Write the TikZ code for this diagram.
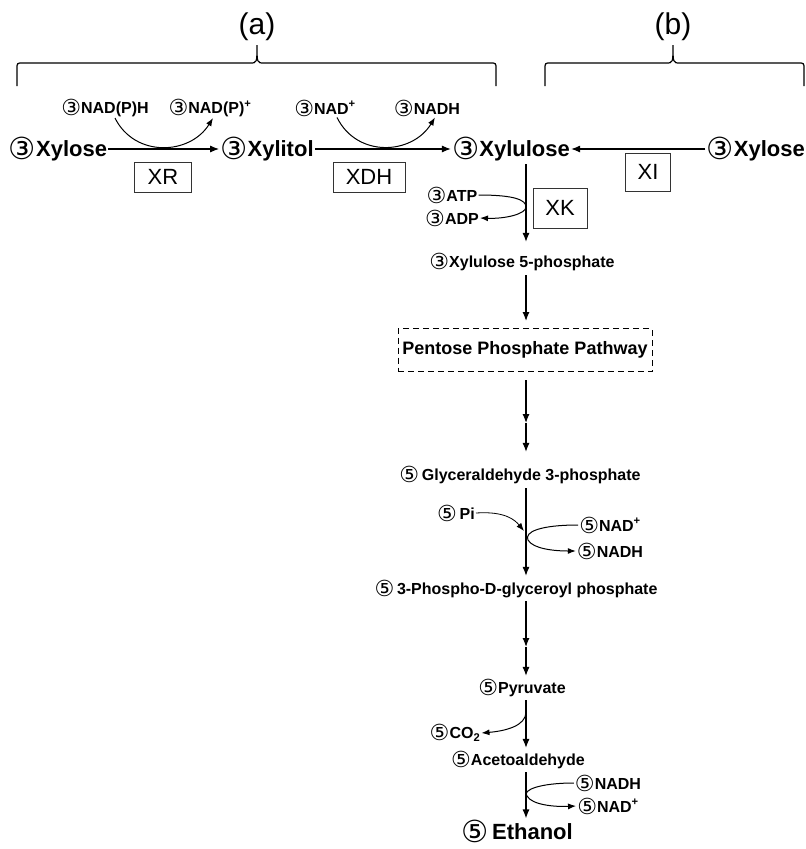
\documentclass[tikz,border=0pt]{standalone}
\usepackage{fontspec}
\setmainfont{Liberation Sans}
\newfontfamily\djv{DejaVu Sans}
\usetikzlibrary{arrows.meta}

\newcommand{\cthree}{\raisebox{-0.12em}{\scalebox{1.38}{\djv\mdseries ③}}}
\newcommand{\cfive}{\raisebox{-0.12em}{\scalebox{1.38}{\djv\mdseries ⑤}}}

\tikzstyle{tag} = [font=\fontsize{30}{34}\selectfont, inner sep=1pt]
\tikzstyle{sugar} = [font=\fontsize{22}{26}\selectfont\bfseries, inner sep=1pt]
\tikzstyle{metab} = [font=\fontsize{16}{19}\selectfont\bfseries, inner sep=1pt]
\tikzstyle{enzyme} = [
    rectangle,
    draw=black!80,
    line width=0.8pt,
    font=\fontsize{22}{26}\selectfont
]
\tikzstyle{pathway} = [
    rectangle,
    draw=black,
    line width=1pt,
    dash pattern=on 6pt off 4pt,
    minimum width=254pt,
    minimum height=43pt,
    font=\fontsize{18}{21}\selectfont\bfseries
]
\tikzstyle{brace} = [line width=1.2pt]
\tikzstyle{arrow} = [line width=1.2pt, -{Latex[length=9pt,width=7pt]}]
\tikzstyle{side} = [line width=1pt, -{Latex[length=8pt,width=6pt]}]

\begin{document}
\begin{tikzpicture}[x=1pt,y=-1pt]
\useasboundingbox (0,0) rectangle (806,849);

% (a) and (b)
\node (labA) [tag] at (257,27) {(a)};
\node (labB) [tag] at (673,27) {(b)};
\draw [brace] (17,86) -- (17,69) .. controls (17,63) .. (23,63) -- (250,63)
    .. controls (257,63) .. (257,45) .. controls (257,63) .. (264,63) -- (490,63)
    .. controls (496,63) .. (496,69) -- (496,86);
\draw [brace] (545,86) -- (545,69) .. controls (545,63) .. (551,63) -- (666,63)
    .. controls (673,63) .. (673,45) .. controls (673,63) .. (680,63) -- (798,63)
    .. controls (804,63) .. (804,69) -- (804,86);

% top row
\node (xylA) [sugar] at (58,149) {\cthree Xylose};
\node (xylitol) [sugar] at (267,149) {\cthree Xylitol};
\node (xylulose) [sugar] at (511,149) {\cthree Xylulose};
\node (xylB) [sugar, anchor=east] at (806,149) {\cthree Xylose};

\node (xr) [enzyme, minimum width=57pt, minimum height=30pt] at (163,177) {XR};
\node (xdh) [enzyme, minimum width=72pt, minimum height=30pt] at (369,177) {XDH};
\node (xi) [enzyme, minimum width=45pt, minimum height=38pt] at (648,172) {XI};
\node (xk) [enzyme, minimum width=54pt, minimum height=40pt] at (560,208) {XK};

\node (nadph) [metab] at (105,108) {\cthree NAD(P)H};
\node (nadpp) [metab] at (210,108) {\cthree NAD(P)\textsuperscript{+}};
\node (nadA) [metab] at (325,108) {\cthree NAD\textsuperscript{+}};
\node (nadhA) [metab] at (427,108) {\cthree NADH};

\draw [arrow] (xylA) -- (xylitol);
\draw [arrow] (xylitol) -- (xylulose);
\draw [arrow] (xylB) -- (xylulose);
\draw [side] ([xshift=10pt]nadph.south) .. controls (135,158) and (190,155) .. ([xshift=3pt]nadpp.south);
\draw [side] ([xshift=12pt]nadA.south) .. controls (357,158) and (412,155) .. ([xshift=8pt]nadhA.south);

% spine
\coordinate (spine) at (526,0);
\node (atp) [metab] at (452,195) {\cthree ATP};
\node (adp) [metab] at (452,218) {\cthree ADP};
\node (x5p) [metab] at (522,262) {\cthree Xylulose 5-phosphate};
\node (ppp) [pathway] at (525,350) {Pentose Phosphate Pathway};
\node (gap) [metab] at (520,475) {\cfive\,Glyceraldehyde 3-phosphate};
\node (pi) [metab] at (456,513) {\cfive\,Pi};
\node (nadB) [metab] at (610,525) {\cfive NAD\textsuperscript{+}};
\node (nadhB) [metab] at (610,551) {\cfive NADH};
\node (bpg) [metab] at (516,589) {\cfive\,3-Phospho-D-glyceroyl phosphate};
\node (pyr) [metab] at (522,688) {\cfive Pyruvate};
\node (co2) [metab] at (455,733) {\cfive CO\textsubscript{2}};
\node (acet) [metab] at (518,760) {\cfive Acetoaldehyde};
\node (nadhC) [metab] at (608,783) {\cfive NADH};
\node (nadC) [metab] at (608,806) {\cfive NAD\textsuperscript{+}};
\node (eth) [sugar] at (517,831) {\cfive\,Ethanol};

\coordinate (k1) at (526,207);
\coordinate (m1) at (526,423);
\coordinate (p1) at (524,531);
\coordinate (n1) at (528,540);
\coordinate (m2) at (526,647);
\coordinate (c1) at (526,712);
\coordinate (n2) at (527,796);

\draw [arrow, shorten <=2pt, shorten >=10pt] (xylulose.south -| spine) -- (x5p.north -| spine);
\draw [side] (atp.east) .. controls (515,195) and (526,200) .. (k1)
    .. controls (526,214) and (505,219) .. (adp.east);
\draw [arrow, shorten <=3pt, shorten >=7pt] (x5p.south -| spine) -- (ppp.north -| spine);
\draw [arrow, shorten <=8pt] (ppp.south -| spine) -- (m1);
\draw [arrow, shorten >=13pt] (m1) -- (gap.north -| spine);
\draw [arrow, shorten <=3pt, shorten >=3pt] (gap.south -| spine) -- (bpg.north -| spine);
\draw [side, line width=0.8pt] (pi.east) .. controls (505,511) and (515,520) .. (p1);
\draw [side] (nadB.west) .. controls (540,525) and (524,532) .. (n1)
    .. controls (533,549) and (555,551) .. (nadhB.west);
\draw [arrow, shorten <=2pt] (bpg.south -| spine) -- (m2);
\draw [arrow, shorten >=2pt] (m2) -- (pyr.north -| spine);
\draw [arrow, shorten <=2pt, shorten >=2pt] (pyr.south -| spine) -- (acet.north -| spine);
\draw [side] (c1) .. controls (526,726) and (505,731) .. (co2.east);
\draw [arrow, shorten <=2pt] (acet.south -| spine) -- (eth.north -| spine);
\draw [side] (nadhC.west) .. controls (540,783) and (522,790) .. (n2)
    .. controls (532,805) and (555,807) .. (nadC.west);

\end{tikzpicture}
\end{document}
